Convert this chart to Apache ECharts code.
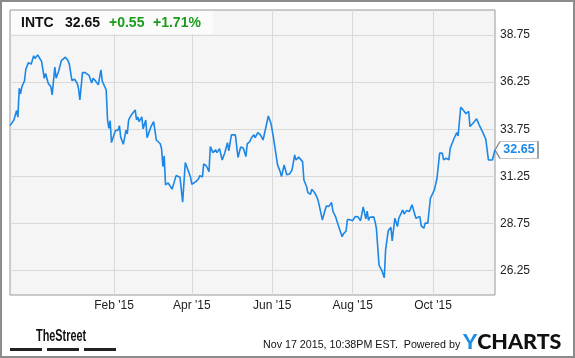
<!DOCTYPE html>
<html>
<head>
<meta charset="utf-8">
<script src="https://cdn.jsdelivr.net/npm/echarts@6/dist/echarts.min.js"></script>
<style>
html,body{margin:0;padding:0;background:#fff;}
#c{width:575px;height:358px;}
</style>
</head>
<body>
<div id="c"></div>
<script>
// ---- data ----
const dates = [
'2014-11-14','2014-11-17','2014-11-19','2014-11-20','2014-11-21','2014-11-22','2014-11-23','2014-11-25','2014-11-26','2014-11-28','2014-11-30',
'2014-12-02','2014-12-03','2014-12-05','2014-12-08','2014-12-09','2014-12-10','2014-12-11','2014-12-13','2014-12-15','2014-12-16','2014-12-18','2014-12-19','2014-12-21','2014-12-23','2014-12-26','2014-12-28','2014-12-29','2014-12-31',
'2015-01-02','2015-01-04','2015-01-05','2015-01-06','2015-01-08','2015-01-10','2015-01-13','2015-01-15','2015-01-16','2015-01-18','2015-01-20','2015-01-22','2015-01-23','2015-01-26','2015-01-27','2015-01-28','2015-01-29','2015-01-30',
'2015-02-02','2015-02-03','2015-02-04','2015-02-05','2015-02-06','2015-02-08','2015-02-10','2015-02-11','2015-02-12','2015-02-14','2015-02-17','2015-02-18','2015-02-19','2015-02-20','2015-02-22','2015-02-23','2015-02-25','2015-02-26',
'2015-03-01','2015-03-03','2015-03-04','2015-03-05','2015-03-08','2015-03-09','2015-03-10','2015-03-11','2015-03-12','2015-03-14','2015-03-15','2015-03-17','2015-03-18','2015-03-19','2015-03-20','2015-03-21','2015-03-23','2015-03-25','2015-03-27','2015-03-29','2015-03-31',
'2015-04-01','2015-04-04','2015-04-06','2015-04-07','2015-04-09','2015-04-10','2015-04-12','2015-04-14','2015-04-15','2015-04-16','2015-04-17','2015-04-19','2015-04-20','2015-04-22','2015-04-24','2015-04-26','2015-04-28','2015-04-29',
'2015-05-01','2015-05-04','2015-05-06','2015-05-07','2015-05-08','2015-05-10','2015-05-12','2015-05-13','2015-05-15','2015-05-16','2015-05-18','2015-05-19','2015-05-21','2015-05-23','2015-05-25','2015-05-27','2015-05-29','2015-05-31',
'2015-06-02','2015-06-05','2015-06-07','2015-06-08','2015-06-10','2015-06-11','2015-06-12','2015-06-14','2015-06-16','2015-06-18','2015-06-19','2015-06-21','2015-06-22','2015-06-24','2015-06-25','2015-06-27','2015-06-28','2015-06-30',
'2015-07-01','2015-07-03','2015-07-05','2015-07-06','2015-07-09','2015-07-10','2015-07-12','2015-07-14','2015-07-16','2015-07-17','2015-07-19','2015-07-21','2015-07-22','2015-07-24','2015-07-25','2015-07-27','2015-07-28','2015-07-30',
'2015-08-01','2015-08-03','2015-08-05','2015-08-07','2015-08-09','2015-08-11','2015-08-12','2015-08-13','2015-08-14','2015-08-17','2015-08-18','2015-08-19','2015-08-21','2015-08-22','2015-08-23','2015-08-25','2015-08-26','2015-08-28','2015-08-30','2015-08-31',
'2015-09-02','2015-09-04','2015-09-05','2015-09-08','2015-09-09','2015-09-11','2015-09-13','2015-09-15','2015-09-16','2015-09-18','2015-09-21','2015-09-22','2015-09-24','2015-09-25','2015-09-27','2015-09-29','2015-09-30',
'2015-10-02','2015-10-04','2015-10-06','2015-10-08','2015-10-09','2015-10-11','2015-10-13','2015-10-14','2015-10-15','2015-10-17','2015-10-19','2015-10-20','2015-10-22','2015-10-24','2015-10-26','2015-10-28','2015-10-29',
'2015-11-01','2015-11-03','2015-11-05','2015-11-08','2015-11-10','2015-11-12','2015-11-15','2015-11-17'
];
const prices = [
33.94,34.24,34.74,34.39,35.92,35.62,36.00,36.31,36.93,37.28,37.20,
37.64,37.50,37.69,37.33,36.90,36.45,36.70,36.19,36.00,35.57,37.04,36.45,36.85,37.39,37.57,37.39,37.20,36.33,
36.40,36.19,35.90,35.30,36.75,36.75,36.60,36.20,36.45,36.30,36.10,36.90,36.30,35.83,34.24,33.80,34.20,33.04,
33.68,33.75,33.70,33.94,33.33,32.95,33.70,33.50,34.24,34.50,34.77,34.24,34.40,34.15,34.40,33.77,34.24,33.30,
33.89,34.15,34.07,33.18,32.98,32.71,31.77,32.34,30.80,30.90,30.80,30.57,30.80,30.70,31.29,31.20,31.20,29.88,31.98,31.60,31.20,
30.83,30.97,31.11,31.29,31.22,31.91,31.80,31.50,32.83,32.87,32.51,32.66,32.51,32.72,32.12,32.50,33.04,32.60,
33.45,33.45,32.25,32.25,32.80,32.75,32.30,32.97,33.10,33.27,33.45,33.30,33.57,33.45,33.18,33.80,34.45,34.07,
33.27,31.86,31.50,31.24,31.86,31.86,31.33,31.37,31.59,32.39,32.12,32.27,32.30,32.03,31.06,30.71,30.39,30.30,
30.57,30.40,30.14,29.91,28.94,29.20,29.68,29.66,29.86,29.40,29.12,28.67,28.62,28.05,28.20,28.35,28.96,28.95,
28.90,29.12,29.10,28.90,29.63,29.00,29.41,28.92,29.08,29.10,28.85,28.50,26.55,26.40,26.29,25.87,27.35,28.37,28.55,27.83,
29.03,28.59,29.03,29.47,29.26,29.44,29.38,29.74,29.74,29.03,29.12,28.62,28.50,28.77,28.77,30.09,30.12,
30.53,31.15,32.48,32.48,32.12,32.21,32.12,32.74,32.80,33.27,33.57,33.39,34.92,34.75,34.57,34.70,33.89,
34.12,34.30,33.98,33.54,33.22,32.12,32.12,32.65
];
const xTickDates = ['2015-02-01','2015-04-01','2015-06-01','2015-08-01','2015-10-01'];
const yTicks = [26.25, 28.75, 31.25, 33.75, 36.25, 38.75];
const ticker = 'INTC';
const lastPrice = '32.65';
const change = '+0.55';
const changePct = '+1.71%';
const stamp = 'Nov 17 2015, 10:38PM EST.  Powered by';

// ---- chart ----
const P = s => echarts.time.parse(s);
const seriesData = dates.map((d, i) => [P(d), prices[i]]);
const lastIdx = dates.length - 1;
const FONT = "'Liberation Sans', Arial, sans-serif";
const BLUE = '#1b87e6';
const GRID = '#d9d9d9';

const chart = echarts.init(document.getElementById('c'), null, {renderer: 'canvas'});
chart.setOption({
  animation: false,
  backgroundColor: '#ffffff',
  grid: {
    left: 10, top: 10, width: 485, height: 285,
    show: true, backgroundColor: '#f5f5f5', borderColor: '#999999', borderWidth: 1
  },
  xAxis: {
    type: 'time',
    min: P(dates[0]), max: P(dates[lastIdx]),
    axisLine: {show: false},
    axisTick: {show: false},
    splitLine: {show: false},
    axisLabel: {show: false}
  },
  yAxis: {
    type: 'value', position: 'right',
    min: 24.96, max: 40.07,
    axisLine: {show: false},
    axisTick: {show: false, customValues: yTicks},
    splitLine: {show: true, lineStyle: {color: GRID, width: 1}},
    axisLabel: {
      customValues: yTicks,
      formatter: v => v.toFixed(2),
      color: '#222', fontSize: 12, fontFamily: FONT, margin: 5
    }
  },
  series: [{
    // month gridlines + labels
    type: 'line',
    data: [],
    z: 1,
    silent: true,
    markLine: {
      silent: true,
      symbol: ['none', 'none'],
      lineStyle: {color: GRID, width: 1, type: 'solid'},
      label: {
        show: true, position: 'start', distance: 5,
        formatter: p => echarts.time.format(p.value, "{MMM} '{yy}", false),
        color: '#222', fontSize: 12, fontFamily: FONT
      },
      data: xTickDates.map(d => ({xAxis: P(d)}))
    }
  }, {
    type: 'line',
    data: seriesData,
    showSymbol: false,
    clip: false,
    lineStyle: {color: BLUE, width: 1.6},
    itemStyle: {color: BLUE},
    z: 5,
    markPoint: {
      silent: true,
      symbol: 'path://M0,8.5L5,0H43V17H5Z',
      symbolSize: [43, 17],
      symbolKeepAspect: false,
      symbolOffset: [21.5, 0],
      itemStyle: {color: '#ffffff', borderColor: '#8a8a8a', borderWidth: 1},
      label: {
        show: true, position: 'inside', offset: [2.5, 0],
        formatter: lastPrice,
        color: BLUE, fontWeight: 'bold', fontSize: 12.5, fontFamily: FONT
      },
      data: [{coord: seriesData[lastIdx], value: prices[lastIdx]}]
    }
  }],
  graphic: [
    {type: 'rect', z: 50, shape: {x: 11, y: 11, width: 202, height: 23}, style: {fill: '#fbfbfb'}},
    {type: 'text', z: 51, x: 21, y: 23, style: {text: ticker, fill: '#111', font: "bold 14px " + FONT, verticalAlign: 'middle'}},
    {type: 'text', z: 51, x: 65, y: 23, style: {text: lastPrice, fill: '#111', font: "bold 14px " + FONT, verticalAlign: 'middle'}},
    {type: 'text', z: 51, x: 109, y: 23, style: {text: change, fill: '#1c9c1c', font: "bold 14px " + FONT, verticalAlign: 'middle'}},
    {type: 'text', z: 51, x: 153, y: 23, style: {text: changePct, fill: '#1c9c1c', font: "bold 14px " + FONT, verticalAlign: 'middle'}},
    // footer
    {type: 'text', z: 51, x: 36, y: 336.5, scaleX: 0.64, style: {text: 'TheStreet', fill: '#111', font: "bold 17px " + FONT, verticalAlign: 'middle'}},
    {type: 'rect', z: 51, shape: {x: 10, y: 348, width: 32, height: 3}, style: {fill: '#222'}},
    {type: 'rect', z: 51, shape: {x: 47, y: 348, width: 32, height: 3}, style: {fill: '#222'}},
    {type: 'rect', z: 51, shape: {x: 84, y: 348, width: 32, height: 3}, style: {fill: '#222'}},
    {type: 'text', z: 51, x: 263, y: 345.5, style: {text: stamp, fill: '#111', font: "10.7px " + FONT, verticalAlign: 'middle'}},
    {type: 'text', z: 51, x: 463, y: 342, style: {
      rich: {y: {fill: '#1a8fe3', font: "900 21.5px Lato, sans-serif"}, c: {fill: '#111', font: "900 21.5px Lato, sans-serif"}},
      text: '{y|Y}{c|CHARTS}', verticalAlign: 'middle'}},
    // outer border
    {type: 'rect', z: 60, shape: {x: 1, y: 1, width: 573, height: 356}, style: {fill: 'none', stroke: '#8c8c8c', lineWidth: 2}}
  ]
});
</script>
</body>
</html>
